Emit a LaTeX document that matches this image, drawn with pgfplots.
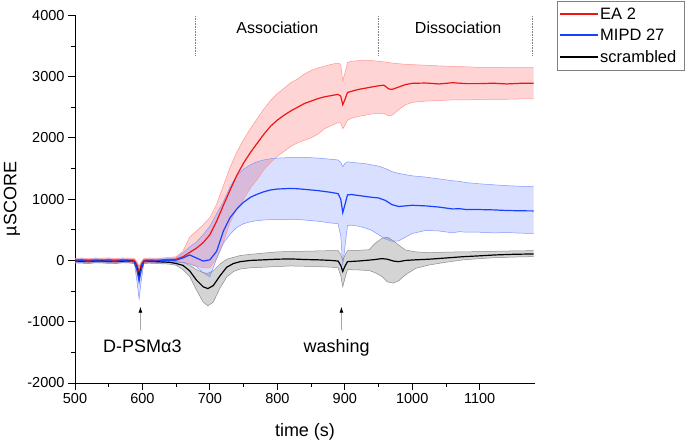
\documentclass[border=0pt]{standalone}
\usepackage{fontspec}
\setmainfont{Liberation Sans}
\usepackage{pgfplots}
\pgfplotsset{compat=1.18}
\usepgfplotslibrary{fillbetween}
\usepackage{pgfplotstable}
\usetikzlibrary{arrows.meta}
\definecolor{cred}{RGB}{240,20,20}
\definecolor{credE}{RGB}{255,150,150}
\definecolor{cblue}{RGB}{25,65,255}
\definecolor{cblueE}{RGB}{130,150,255}
\definecolor{cgrayE}{RGB}{140,140,140}

\pgfplotstableread{
x lo mid hi
500 -30 5 35
510 -25 10 40
520 -35 0 30
530 -25 8 40
540 -30 2 35
550 -25 10 42
560 -35 0 30
570 -25 8 40
580 -30 5 38
588 -35 0 30
592 -150 -80 -20
595 -300 -200 -100
598 -150 -80 -20
602 -35 0 30
610 -30 5 40
620 -30 0 35
630 -20 10 40
640 -20 12 50
650 -20 20 60
660 -30 60 150
670 -50 130 380
680 -90 200 480
690 -120 290 580
700 -120 420 700
710 30 640 920
720 300 900 1220
730 620 1150 1520
740 850 1390 1770
750 1000 1590 1970
760 1180 1760 2150
770 1320 1910 2310
780 1480 2060 2470
790 1600 2190 2610
800 1700 2290 2720
810 1780 2370 2810
820 1860 2440 2900
830 1920 2500 2960
840 1960 2560 3040
850 2000 2600 3100
860 2060 2640 3140
870 2150 2670 3170
880 2200 2690 3200
890 2250 2710 3220
894 2240 2680 3200
897 2150 2540 2930
900 2200 2620 3050
904 2290 2740 3230
910 2320 2760 3250
920 2350 2790 3260
930 2370 2810 3270
940 2390 2830 3260
950 2400 2850 3250
958 2400 2860 3240
965 2360 2800 3230
970 2370 2790 3220
980 2460 2830 3210
990 2540 2870 3200
1000 2580 2890 3195
1020 2600 2895 3185
1040 2610 2880 3175
1060 2620 2900 3165
1080 2620 2885 3160
1100 2625 2885 3150
1120 2630 2892 3150
1140 2630 2880 3145
1160 2635 2890 3145
1180 2635 2890 3145
}\redtab

\pgfplotstableread{
x lo mid hi
500 -40 -10 20
510 -35 -5 25
520 -45 -15 15
530 -35 -5 25
540 -40 -12 20
550 -35 -8 25
560 -45 -15 15
570 -35 -5 25
580 -40 -10 20
588 -45 -20 10
592 -350 -150 -50
595 -630 -340 -100
598 -350 -150 -50
602 -45 -15 15
610 -40 -10 20
620 -40 -8 22
630 -35 -5 25
640 -35 0 30
650 -30 5 40
660 -30 40 120
670 -60 90 220
680 -100 40 300
690 -200 -10 420
700 -270 10 560
710 30 150 760
720 280 480 960
730 430 700 1200
740 540 840 1390
750 600 950 1490
760 630 1030 1560
770 650 1080 1610
780 660 1120 1640
790 665 1150 1660
800 665 1165 1670
810 668 1170 1675
820 670 1175 1680
830 668 1170 1682
840 660 1160 1680
850 650 1150 1676
860 640 1140 1670
870 625 1125 1660
880 610 1110 1650
890 600 1090 1640
894 400 1000 1600
897 -80 780 1530
900 200 900 1580
904 570 1070 1610
910 575 1075 1600
920 560 1060 1590
930 530 1045 1580
940 490 1030 1560
950 420 1020 1540
960 350 980 1500
970 310 910 1450
980 320 880 1420
990 380 890 1400
1000 440 900 1380
1020 490 890 1360
1040 480 870 1330
1060 450 840 1300
1070 470 845 1290
1080 460 830 1270
1100 460 830 1250
1120 450 825 1235
1140 455 815 1220
1160 445 810 1210
1180 440 808 1205
}\bluetab

\pgfplotstableread{
x lo mid hi
500 -40 -10 20
510 -45 -15 15
520 -50 -20 10
530 -40 -10 20
540 -40 -10 20
550 -50 -18 12
560 -50 -20 10
570 -40 -12 18
580 -40 -10 20
588 -50 -20 10
592 -200 -130 -80
595 -330 -265 -180
598 -200 -130 -80
602 -50 -20 10
610 -45 -15 15
620 -50 -20 10
630 -55 -25 5
640 -60 -30 0
650 -80 -50 -20
660 -150 -80 -30
670 -260 -170 -80
680 -480 -320 -150
690 -680 -430 -200
697 -740 -460 -210
705 -680 -410 -170
715 -450 -250 -60
725 -270 -110 20
735 -180 -50 50
745 -140 -20 80
760 -120 0 100
780 -110 10 120
800 -100 20 140
820 -90 25 145
840 -95 15 150
860 -100 10 155
880 -110 0 160
890 -120 -10 160
894 -250 -80 100
897 -430 -180 0
900 -300 -100 80
904 -150 -20 160
920 -155 -10 165
936 -165 5 175
945 -200 15 280
955 -260 30 360
963 -350 20 380
972 -370 -10 320
980 -330 -20 250
990 -235 0 170
1005 -130 10 140
1025 -74 20 126
1050 -30 40 135
1074 8 60 140
1100 30 75 143
1124 45 90 150
1150 55 100 155
1180 62 106 160
}\blacktab

\begin{document}
\begin{tikzpicture}
\begin{axis}[
  scale only axis, width=460pt, height=367.7pt,
  xmin=500, xmax=1182, ymin=-2000, ymax=4000,
  axis lines=left, axis line style={-, black, line width=0.8pt},
  xtick={500,600,...,1100}, ytick={-2000,-1000,...,4000},
  minor x tick num=1, minor y tick num=1,
  tick align=outside, major tick length=7pt, minor tick length=4pt,
  tick style={black, line width=0.8pt},
  /pgf/number format/assume math mode=true,
  /pgf/number format/set thousands separator={},
  ticklabel style={font=\fontsize{14.5}{17}\selectfont},
  xlabel={time (s)}, ylabel={µSCORE},
  label style={font=\fontsize{18}{21}\selectfont},
  xlabel style={at={(axis description cs:0.5,-0.133)}, anchor=center},
  ylabel style={at={(axis description cs:-0.137,0.5)}, anchor=center},
]
% bands
\addplot[name path=rl, draw=credE, line width=0.5pt, forget plot] table[x=x,y=lo]{\redtab};
\addplot[name path=rh, draw=credE, line width=0.5pt, forget plot] table[x=x,y=hi]{\redtab};
\addplot[fill=red, fill opacity=0.17, draw=none, forget plot] fill between[of=rl and rh];
\addplot[name path=bl, draw=cblueE, line width=0.5pt, forget plot] table[x=x,y=lo]{\bluetab};
\addplot[name path=bh, draw=cblueE, line width=0.5pt, forget plot] table[x=x,y=hi]{\bluetab};
\addplot[fill=cblue, fill opacity=0.17, draw=none, forget plot] fill between[of=bl and bh];
\addplot[name path=kl, draw=cgrayE, line width=0.5pt, forget plot] table[x=x,y=lo]{\blacktab};
\addplot[name path=kh, draw=cgrayE, line width=0.5pt, forget plot] table[x=x,y=hi]{\blacktab};
\addplot[fill=black, fill opacity=0.17, draw=none, forget plot] fill between[of=kl and kh];
% means
\addplot[draw=cred, line width=1.2pt] table[x=x,y=mid]{\redtab};
\addplot[draw=black, line width=1.2pt] table[x=x,y=mid]{\blacktab};
\addplot[draw=cblue, line width=1.2pt] table[x=x,y=mid]{\bluetab};
% annotations
\draw[gray, densely dotted, line width=0.6pt] (678,3350) -- (678,4000);
\draw[gray, densely dotted, line width=0.6pt] (950,3350) -- (950,4000);
\draw[gray, densely dotted, line width=0.6pt] (1178,3350) -- (1178,4000);
\node[anchor=base, font=\fontsize{16}{19}\selectfont] at (800,3700) {Association};
\node[anchor=base, font=\fontsize{16}{19}\selectfont] at (1068,3700) {Dissociation};
\draw[gray!70, line width=0.8pt, -{Latex[black,length=6pt,width=4pt]}] (597,-1130) -- (597,-755);
\draw[gray!70, line width=0.8pt, -{Latex[black,length=6pt,width=4pt]}] (895,-1130) -- (895,-755);
\node[anchor=base, font=\fontsize{18}{21}\selectfont] at (600,-1508) {D-PSMα3};
\node[anchor=base, font=\fontsize{18}{21}\selectfont] at (888,-1508) {washing};
\end{axis}
% legend (drawn by hand, in pt relative to the axis origin)
\draw[gray, line width=0.6pt] (482pt,382pt) rectangle (609pt,313pt);
\draw[cred, line width=1.3pt] (485pt,369pt) -- (523pt,369pt);
\draw[cblue, line width=1.3pt] (485pt,348pt) -- (523pt,348pt);
\draw[black, line width=1.3pt] (485pt,326pt) -- (523pt,326pt);
\node[anchor=west, inner sep=0pt, font=\fontsize{16.5}{19}\selectfont] at (525pt,369pt) {EA 2};
\node[anchor=west, inner sep=0pt, font=\fontsize{16.5}{19}\selectfont] at (525pt,348pt) {MIPD 27};
\node[anchor=west, inner sep=0pt, font=\fontsize{16.5}{19}\selectfont] at (525pt,326pt) {scrambled};
\pgfresetboundingbox
\path[use as bounding box] (-75pt,-61pt) rectangle (613pt,383pt);
\end{tikzpicture}
\end{document}
